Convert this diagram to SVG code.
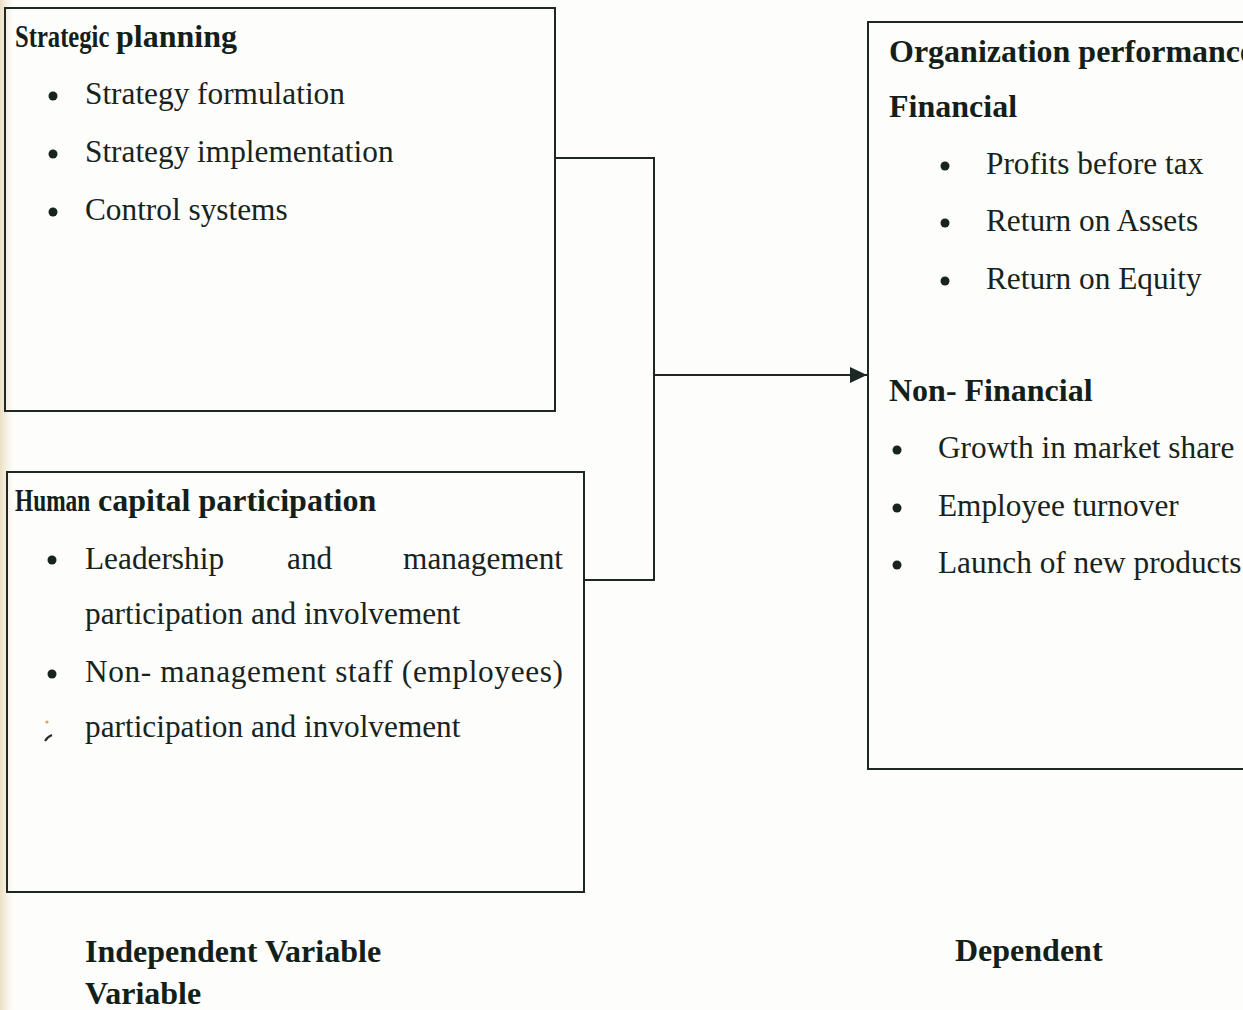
<svg xmlns="http://www.w3.org/2000/svg" width="1243" height="1010" viewBox="0 0 1243 1010">
  <style>
    .box { fill: none; stroke: #1d2723; stroke-width: 2; }
    .wire { fill: none; stroke: #1d2723; stroke-width: 2; }
    .t { font-family: "Liberation Serif", "Times New Roman", serif; font-size: 31.3px; fill: #17241d; }
    .b { font-family: "Liberation Serif", "Times New Roman", serif; font-size: 32px; font-weight: bold; fill: #141f19; }
    .dot { fill: #17241d; }
  </style>
  <defs>
    <marker id="arrow" viewBox="0 0 17 16" refX="17" refY="8" markerWidth="17" markerHeight="16" markerUnits="userSpaceOnUse" orient="auto">
      <path d="M0,0 L17,8 L0,16 Z" fill="#1d2723"/>
    </marker>
    <linearGradient id="edge" x1="0" x2="1" y1="0" y2="0">
      <stop offset="0" stop-color="#e9dcbc" stop-opacity="0.9"/>
      <stop offset="1" stop-color="#f4ecd8" stop-opacity="0"/>
    </linearGradient>
  </defs>

  <rect width="1243" height="1010" fill="#fdfdfc"/>
  <!-- paper edge tint along the left margin -->
  <rect x="0" y="0" width="14" height="1010" fill="url(#edge)"/>

  <!-- independent variable: strategic planning -->
  <g id="strategic-planning">
    <rect class="box" x="5" y="8" width="550" height="403"/>
    <!-- first word set in a condensed cut -->
    <text class="b" transform="translate(15,47) scale(0.77,1)">Strategic</text>
    <text class="b" x="116" y="47">planning</text>
    <circle class="dot" cx="53" cy="96" r="4.5"/>
    <text class="t" x="85" y="104">Strategy formulation</text>
    <circle class="dot" cx="53" cy="154" r="4.5"/>
    <text class="t" x="85" y="162">Strategy implementation</text>
    <circle class="dot" cx="53" cy="212" r="4.5"/>
    <text class="t" x="85" y="220">Control systems</text>
  </g>

  <!-- independent variable: human capital participation -->
  <g id="human-capital">
    <rect class="box" x="7" y="472" width="577" height="420"/>
    <text class="b" transform="translate(15,511) scale(0.73,1)">Human</text>
    <text class="b" x="98" y="511">capital participation</text>
    <circle class="dot" cx="52" cy="560" r="4.5"/>
    <text class="t" x="85" y="569">Leadership</text>
    <text class="t" x="287" y="569">and</text>
    <text class="t" x="563" y="569" text-anchor="end">management</text>
    <text class="t" x="85" y="624">participation and involvement</text>
    <circle class="dot" cx="52" cy="674" r="4.5"/>
    <text class="t" x="85" y="682" textLength="478" lengthAdjust="spacing">Non- management staff  (employees)</text>
    <path d="M45,741 q2,-4 7,-6" fill="none" stroke="#2a2a1f" stroke-width="2"/>
    <circle cx="47" cy="722" r="1.6" fill="#d9a35a"/>
    <text class="t" x="85" y="737">participation and involvement</text>
  </g>

  <!-- dependent variable: organization performance (runs past the right edge) -->
  <g id="organization-performance">
    <rect class="box" x="868" y="22" width="390" height="747"/>
    <text class="b" x="889" y="62">Organization performance</text>
    <text class="b" x="889" y="117">Financial</text>
    <circle class="dot" cx="945" cy="166" r="4.5"/>
    <text class="t" x="986" y="174">Profits before tax</text>
    <circle class="dot" cx="945" cy="223" r="4.5"/>
    <text class="t" x="986" y="231">Return on Assets</text>
    <circle class="dot" cx="945" cy="281" r="4.5"/>
    <text class="t" x="986" y="289">Return on Equity</text>
    <text class="b" x="889" y="401">Non- Financial</text>
    <circle class="dot" cx="897" cy="450" r="4.5"/>
    <text class="t" x="938" y="458">Growth in market share</text>
    <circle class="dot" cx="897" cy="508" r="4.5"/>
    <text class="t" x="938" y="516">Employee turnover</text>
    <circle class="dot" cx="897" cy="565" r="4.5"/>
    <text class="t" x="938" y="573">Launch of new products</text>
  </g>

  <!-- links from both inputs into the outcome -->
  <g id="connectors">
    <path class="wire" d="M555,158 H654 V580 H584"/>
    <path class="wire" d="M654,375 H867" marker-end="url(#arrow)"/>
  </g>

  <!-- captions -->
  <g id="captions">
    <text class="b" x="85" y="962">Independent Variable</text>
    <text class="b" x="85" y="1004">Variable</text>
    <text class="b" x="955" y="961">Dependent</text>
  </g>
</svg>
